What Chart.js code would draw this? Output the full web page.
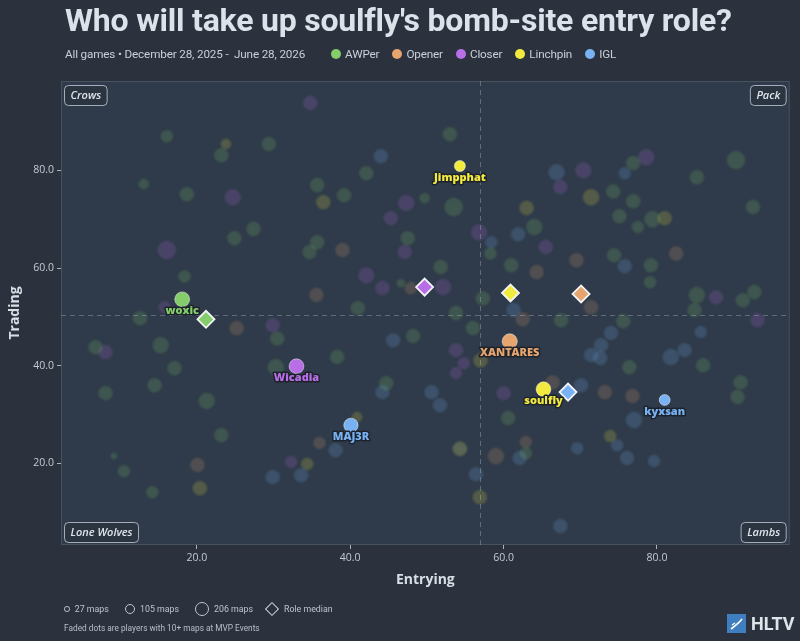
<!DOCTYPE html>
<html>
<head>
<meta charset="utf-8">
<script src="https://cdn.jsdelivr.net/npm/chart.js@4.4.1/dist/chart.umd.min.js"></script>
<style>
  html, body { margin: 0; padding: 0; background: #2b323d; }
  #wrap { position: relative; width: 800px; height: 641px; overflow: hidden; }
  #chart { position: absolute; left: 0; top: 0; }
  .title { position: absolute; left: 65px; top: 1px; font: 700 32px 'Roboto'; color: #dbe2ea; white-space: nowrap; letter-spacing: -0.2px; }
  .sub { position: absolute; left: 65px; top: 47px; font: 400 11.7px 'Roboto'; color: #c9d0da; white-space: nowrap; display: flex; align-items: center; letter-spacing: -0.15px; }
  .sub .dot { display: inline-block; width: 10px; height: 10px; border-radius: 50%; margin: 0 4px 0 13px; }
  .sub .dot.first { margin-left: 26px; }
  .foot { position: absolute; left: 62px; top: 602px; font: 400 8.8px 'Roboto'; color: #bdc4ce; white-space: nowrap; display: flex; align-items: center; }
  .foot .ring { display: inline-block; border: 1px solid #c0c7d0; border-radius: 50%; margin: 0 5px 0 16px; }
  .foot .dia { display: inline-block; width: 8px; height: 8px; border: 1px solid #d0d6de; transform: rotate(45deg); margin: 0 7px 0 14px; }
  .note { position: absolute; left: 64px; top: 623px; font: 400 8.3px 'Roboto'; color: #b7bfca; white-space: nowrap; }
  .logo { position: absolute; left: 727px; top: 613px; display: flex; align-items: center; }
  .logo span { font: 700 18px 'Roboto'; color: #dfe4ea; margin-left: 5px; }
</style>
</head>
<body>
<div id="wrap">
  <canvas id="chart" width="800" height="641"></canvas>
  <div class="title">Who will take up soulfly's bomb-site entry role?</div>
  <div class="sub" id="sub">All games • December 28, 2025 -&nbsp; June 28, 2026</div>
  <div class="foot" id="foot"></div>
  <div class="note">Faded dots are players with 10+ maps at MVP Events</div>
  <div class="logo">
    <svg width="19" height="19" viewBox="0 0 19 19"><rect width="19" height="19" fill="#3f7fbf"/><path d="M4 15 C8 12 12 9 15 5" stroke="#fff" stroke-width="1.6" fill="none"/><path d="M5 11 L8 9" stroke="#fff" stroke-width="1.2"/></svg>
    <span>HLTV</span>
  </div>
</div>
<script>
var roles = ['AWPer', 'Opener', 'Closer', 'Linchpin', 'IGL']
var roleColors = ['#85cc6a', '#e6a56f', '#b86ee6', '#f3ea3f', '#79b2f2']

// highlighted players
var players = ['woxic', 'Wicadia', 'MAJ3R', 'Jimpphat', 'XANTARES', 'soulfly', 'kyxsan']
var playerRoles = ['AWPer', 'Closer', 'IGL', 'Linchpin', 'Opener', 'Linchpin', 'IGL']
var playerEntry = [18.1, 33.0, 40.1, 54.3, 60.8, 65.2, 81.0]
var playerTrade = [53.6, 39.9, 27.8, 80.9, 45.0, 35.2, 33.0]
var playerMaps = [270, 265, 250, 150, 280, 265, 145]

// role medians
var medianEntry = [21.2, 70.1, 49.7, 60.9, 68.4]
var medianTrade = [49.5, 54.7, 56.1, 54.9, 34.6]

// overall medians (dashed lines)
var allMedianEntry = 56.9
var allMedianTrade = 50.4

var xTicks = [20, 40, 60, 80]
var yTicks = [20, 40, 60, 80]

var sizeLegend = [27, 105, 206]

// faded players: [entrying, trading, maps]
var fadedAwper = [
  [16.1, 87.0, 160], [23.2, 83.1, 220], [29.4, 85.4, 220], [13.1, 77.2, 110], [35.7, 77.0, 220],
  [18.7, 75.1, 220], [27.4, 68.0, 220], [24.9, 66.1, 220], [35.7, 65.3, 220], [34.7, 63.3, 220],
  [18.4, 58.3, 160], [53.0, 87.4, 220], [76.9, 81.5, 220], [85.2, 78.6, 220], [90.3, 82.1, 370],
  [49.7, 74.3, 110], [53.5, 72.5, 370], [74.3, 75.7, 220], [76.9, 73.7, 220], [92.5, 72.5, 220],
  [64.0, 68.4, 290], [75.1, 70.6, 220], [79.4, 70.0, 290], [77.5, 68.4, 160], [47.5, 66.1, 220],
  [58.3, 63.0, 160], [61.0, 60.6, 220], [74.4, 62.6, 220], [79.2, 60.6, 220], [79.1, 57.1, 160],
  [51.8, 60.2, 220], [53.8, 50.8, 220], [57.3, 53.8, 220], [85.2, 54.5, 290], [92.7, 55.1, 220],
  [91.2, 53.4, 220], [84.9, 51.4, 220], [67.5, 49.3, 220], [75.6, 49.1, 220], [46.6, 56.9, 70],
  [41.0, 51.8, 220], [30.5, 45.6, 220], [15.3, 44.2, 290], [17.1, 39.5, 220], [38.3, 41.8, 220],
  [30.3, 39.7, 290], [48.2, 46.1, 220], [44.7, 36.4, 220], [14.5, 36.0, 220], [21.3, 32.8, 290],
  [23.2, 25.8, 220], [6.8, 43.8, 220], [8.1, 34.4, 220], [9.2, 21.5, 40], [10.5, 18.4, 160],
  [14.2, 14.1, 160], [56.0, 47.7, 220], [86.0, 40.1, 220], [90.9, 36.6, 220], [90.5, 33.6, 220],
  [76.4, 39.7, 220], [60.6, 29.3, 220], [54.3, 23.1, 220], [42.1, 79.4, 220], [39.2, 74.9, 220],
  [12.6, 49.7, 220], [62.9, 22.1, 160]
]
var fadedLinchpin = [
  [23.8, 85.4, 110], [36.5, 73.5, 220], [71.4, 74.5, 290], [63.0, 72.3, 220], [81.0, 70.2, 220],
  [20.4, 14.9, 220], [34.4, 19.9, 160], [56.9, 13.1, 220], [40.9, 29.5, 110], [57.0, 41.1, 220],
  [73.9, 25.6, 160]
]
var fadedCloser = [
  [34.8, 93.8, 220], [24.7, 74.5, 290], [16.1, 63.7, 370], [70.4, 80.0, 290], [78.6, 82.7, 290],
  [67.4, 76.6, 220], [47.3, 73.3, 290], [56.8, 67.3, 290], [47.1, 63.3, 220], [65.5, 64.3, 220],
  [52.1, 56.1, 290], [87.7, 54.0, 220], [93.1, 49.3, 220], [42.1, 58.5, 290], [44.2, 55.9, 220],
  [15.8, 52.0, 160], [29.9, 48.3, 220], [8.1, 42.8, 220], [32.3, 20.3, 160], [53.8, 43.2, 220],
  [54.8, 40.5, 160], [53.8, 38.5, 160], [60.0, 34.4, 220], [45.3, 70.2, 220]
]
var fadedOpener = [
  [39.0, 63.7, 220], [69.5, 61.6, 220], [64.3, 59.2, 220], [82.5, 63.0, 220], [62.5, 49.5, 220],
  [71.4, 52.0, 220], [47.9, 55.9, 160], [35.6, 54.5, 220], [25.2, 47.7, 220], [20.1, 19.7, 220],
  [36.0, 24.2, 160], [54.3, 22.9, 220], [59.0, 21.5, 290], [73.2, 34.6, 220], [76.8, 33.8, 220],
  [62.9, 24.4, 160], [66.4, 36.6, 220]
]
var fadedIgl = [
  [44.0, 82.9, 220], [66.9, 79.6, 290], [75.8, 79.4, 160], [61.9, 66.9, 220], [58.4, 65.3, 160],
  [75.8, 60.4, 220], [61.3, 51.4, 220], [45.6, 45.2, 220], [44.2, 34.6, 220], [50.6, 34.6, 220],
  [51.7, 31.9, 220], [29.9, 17.2, 220], [33.6, 17.6, 220], [38.1, 22.7, 220], [62.1, 21.1, 220],
  [56.4, 17.8, 220], [67.4, 7.2, 220], [69.6, 23.1, 160], [74.8, 23.7, 160], [76.1, 21.1, 220],
  [79.6, 20.5, 160], [74.0, 46.7, 220], [72.7, 44.2, 220], [71.4, 42.2, 220], [72.6, 41.6, 220],
  [81.8, 41.8, 290], [83.6, 43.2, 220], [70.1, 36.0, 220], [77.0, 28.9, 290], [85.7, 46.9, 160]
]
var fadedByRole = [fadedAwper, fadedOpener, fadedCloser, fadedLinchpin, fadedIgl]

var quadrants = [
  { text: 'Crows', corner: 'tl' },
  { text: 'Pack', corner: 'tr' },
  { text: 'Lone Wolves', corner: 'bl' },
  { text: 'Lambs', corner: 'br' }
]

function mapRadius(m) { return 0.453 * Math.sqrt(m) }
function roleColor(r) { return roleColors[roles.indexOf(r)] }
function alpha(hex, a) {
  var n = parseInt(hex.slice(1), 16)
  return 'rgba(' + (n >> 16) + ',' + ((n >> 8) & 255) + ',' + (n & 255) + ',' + a + ')'
}

// subtitle legend
var sub = document.getElementById('sub')
roles.forEach(function (r, i) {
  var d = document.createElement('span')
  d.className = i === 0 ? 'dot first' : 'dot'
  d.style.background = roleColors[i]
  sub.appendChild(d)
  sub.appendChild(document.createTextNode(r))
})

// size legend
var foot = document.getElementById('foot')
sizeLegend.forEach(function (m, i) {
  var c = document.createElement('span')
  var r = mapRadius(m)
  c.className = 'ring'
  c.style.width = c.style.height = (r * 2 - 1) + 'px'
  if (i === 0) c.style.marginLeft = '2px'
  foot.appendChild(c)
  foot.appendChild(document.createTextNode(m + ' maps'))
})
var dia = document.createElement('span')
dia.className = 'dia'
foot.appendChild(dia)
foot.appendChild(document.createTextNode('Role median'))

var datasets = []

// highlighted players (on top)
datasets.push({
  label: 'players',
  order: 0,
  data: players.map(function (p, i) {
    return { x: playerEntry[i], y: playerTrade[i], maps: playerMaps[i], name: p, role: playerRoles[i] }
  }),
  pointRadius: function (c) { return mapRadius(c.raw.maps) },
  backgroundColor: function (c) { return roleColor(c.raw.role) },
  borderColor: 'rgba(255,255,255,0.45)',
  borderWidth: 1
})

// role medians
datasets.push({
  label: 'medians',
  order: 1,
  data: roles.map(function (r, i) { return { x: medianEntry[i], y: medianTrade[i] } }),
  pointStyle: 'rectRot',
  pointRadius: 8.5,
  backgroundColor: roleColors,
  borderColor: '#f2f4f7',
  borderWidth: 1.8
})

// faded background players
fadedByRole.forEach(function (list, i) {
  datasets.push({
    label: 'faded ' + roles[i],
    order: 2,
    faded: true,
    data: list.map(function (p) { return { x: p[0], y: p[1], maps: p[2] } }),
    pointRadius: function (c) { return mapRadius(c.raw.maps) },
    backgroundColor: alpha(roleColors[i], 0.19),
    borderColor: alpha(roleColors[i], 0.14),
    borderWidth: 1
  })
})

var framePlugin = {
  id: 'frame',
  beforeDatasetsDraw: function (chart) {
    var ctx = chart.ctx, a = chart.chartArea
    var xs = chart.scales.x, ys = chart.scales.y
    ctx.save()
    ctx.fillStyle = '#2f3b4a'
    ctx.fillRect(a.left, a.top, a.right - a.left, a.bottom - a.top)
    ctx.strokeStyle = '#46525f'
    ctx.lineWidth = 1
    ctx.strokeRect(a.left + 0.5, a.top + 0.5, a.right - a.left - 1, a.bottom - a.top - 1)
    ctx.setLineDash([5, 4])
    ctx.strokeStyle = 'rgba(190,200,212,0.35)'
    var mx = Math.round(xs.getPixelForValue(allMedianEntry)) + 0.5
    var my = Math.round(ys.getPixelForValue(allMedianTrade)) + 0.5
    ctx.beginPath()
    ctx.moveTo(mx, a.top); ctx.lineTo(mx, a.bottom)
    ctx.moveTo(a.left, my); ctx.lineTo(a.right, my)
    ctx.stroke()
    ctx.restore()
  },
  beforeDatasetDraw: function (chart, args) {
    if (chart.data.datasets[args.index].faded) {
      chart.ctx.save()
      chart.ctx.filter = 'blur(1.3px)'
    }
  },
  afterDatasetDraw: function (chart, args) {
    if (chart.data.datasets[args.index].faded) chart.ctx.restore()
  },
  afterDatasetsDraw: function (chart) {
    var ctx = chart.ctx, a = chart.chartArea
    ctx.save()
    // player labels
    var meta = chart.getDatasetMeta(0)
    ctx.font = '800 11px "Open Sans"'
    ctx.textAlign = 'center'
    ctx.textBaseline = 'middle'
    ctx.lineJoin = 'round'
    meta.data.forEach(function (el, i) {
      var y = el.y + 12
      ctx.strokeStyle = '#1d232c'
      ctx.lineWidth = 3
      ctx.strokeText(players[i], el.x, y)
      ctx.fillStyle = roleColor(playerRoles[i])
      ctx.fillText(players[i], el.x, y)
    })
    // quadrant labels
    ctx.font = 'italic 600 11px "Open Sans"'
    quadrants.forEach(function (q) {
      var w = ctx.measureText(q.text).width + 12
      var h = 20
      var x = q.corner[1] === 'l' ? a.left + 3 : a.right - 4 - w
      var y = q.corner[0] === 't' ? a.top + 4 : a.bottom - 3 - h
      ctx.beginPath()
      ctx.roundRect(x + 0.5, y + 0.5, w, h, 4)
      ctx.fillStyle = '#2b3542'
      ctx.fill()
      ctx.strokeStyle = 'rgba(205,213,223,0.75)'
      ctx.lineWidth = 1
      ctx.stroke()
      ctx.fillStyle = '#e0e5eb'
      ctx.fillText(q.text, x + w / 2 + 0.5, y + h / 2 + 1)
    })
    ctx.restore()
  }
}

new Chart(document.getElementById('chart'), {
  type: 'scatter',
  data: { datasets: datasets },
  plugins: [framePlugin],
  options: {
    responsive: false,
    animation: false,
    layout: { padding: { top: 81, right: 8, bottom: 49, left: 0 } },
    plugins: { legend: { display: false }, tooltip: { enabled: false } },
    scales: {
      x: {
        min: 2.3,
        max: 97.3,
        afterBuildTicks: function (s) { s.ticks = xTicks.map(function (v) { return { value: v } }) },
        afterFit: function (s) { s.height = 47 },
        grid: { drawOnChartArea: false, drawTicks: true, tickLength: 4, color: '#aab2bd' },
        border: { display: false },
        ticks: {
          color: '#c3cad3',
          font: { family: 'Open Sans', size: 10.5 },
          padding: 3,
          callback: function (v) { return v.toFixed(1) }
        },
        title: { display: true, text: 'Entrying', color: '#d9dee6', font: { family: 'Open Sans', size: 14, weight: 'bold' }, padding: { top: 4, bottom: 4 } }
      },
      y: {
        min: 3.3,
        max: 98.3,
        afterBuildTicks: function (s) { s.ticks = yTicks.map(function (v) { return { value: v } }) },
        afterFit: function (s) { s.width = 61 },
        grid: { drawOnChartArea: false, drawTicks: true, tickLength: 4, color: '#aab2bd' },
        border: { display: false },
        ticks: {
          color: '#c3cad3',
          font: { family: 'Open Sans', size: 10.5 },
          padding: 3,
          callback: function (v) { return v.toFixed(1) }
        },
        title: { display: true, text: 'Trading', color: '#d9dee6', font: { family: 'Open Sans', size: 14, weight: 'bold' }, padding: { top: 7, bottom: 4 } }
      }
    }
  }
})
</script>
</body>
</html>
